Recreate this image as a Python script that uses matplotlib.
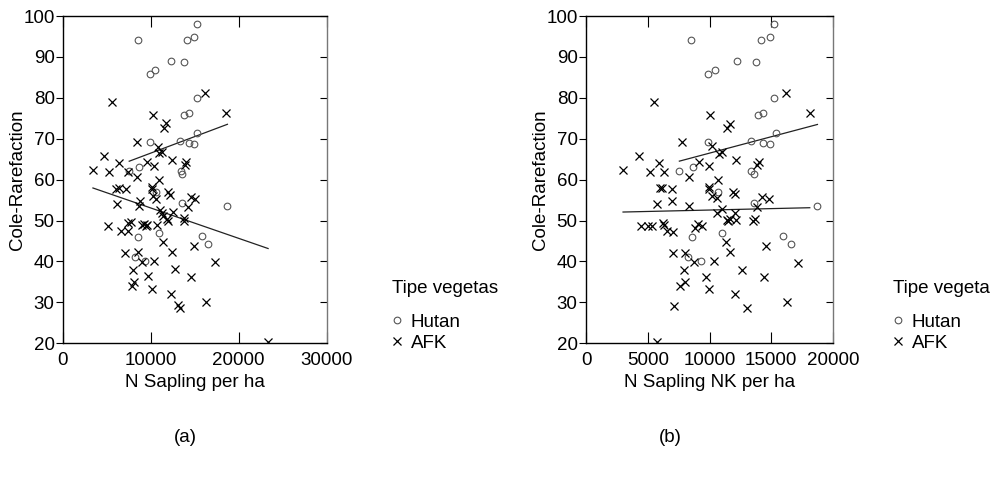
import matplotlib
matplotlib.use('Agg')

import numpy as np
import matplotlib.pyplot as plt
from matplotlib.lines import Line2D

plt.rcParams['font.family'] = ['Liberation Sans', 'DejaVu Sans']
plt.rcParams['font.size'] = 13.5

# Cole-Rarefaction for the Hutan plots (same plots in both panels)
hutan_y = [98.0, 94.1, 94.1, 94.9, 89.0, 88.8, 85.9, 86.7, 79.9, 75.9,
           76.2, 71.5, 69.1, 69.4, 69.0, 68.8, 62.0, 63.0, 62.0, 61.5,
           57.0, 54.4, 53.6, 45.9, 46.9, 46.3, 44.2, 41.1, 40.1]
hutan_sapling = [15200, 8490, 14140, 14860, 12240, 13720, 9890, 10500, 15200, 13830,
                 14290, 15310, 9890, 13300, 14290, 14900, 7540, 8640, 13380, 13600,
                 10540, 13600, 18720, 8530, 10950, 15880, 16560, 8220, 9320]
hutan_sapling_nk = [15260, 8500, 14150, 14900, 12260, 13740, 9910, 10480, 15230, 13900,
                    14340, 15360, 9910, 13340, 14360, 14930, 7560, 8670, 13390, 13640,
                    10670, 13640, 18740, 8560, 10990, 15930, 16580, 8240, 9290]

# AFK, panel (a): N Sapling per ha
afk_sapling = [5530, 16220, 18610, 10200, 11670, 11480, 8380, 10800, 10960, 11220,
               4620, 12360, 9510, 6330, 10350, 13990, 13900, 3410, 5190, 7400,
               8380, 10880, 6070, 6370, 7160, 10080, 10120, 11980, 12170, 8750,
               6180, 8680, 10270, 10540, 11100, 11220, 14550, 15010, 14210, 12470,
               11790, 11980, 13760, 13760, 11410, 5150, 6590, 7430, 7700, 7350,
               9020, 9210, 9400, 9590, 10650, 11410, 14970, 7050, 8490, 8940,
               17360, 10380, 12390, 7960, 12770, 9700, 14550, 8070, 7840, 10120,
               12240, 13110, 13300, 16330, 23350]
afk_y_a = [78.9, 81.1, 76.2, 75.8, 73.8, 72.7, 69.3, 68.1, 66.5, 66.8,
           65.9, 64.8, 64.4, 64.1, 63.3, 64.3, 63.5, 62.3, 61.8, 61.8,
           60.6, 59.8, 57.8, 57.9, 57.8, 58.2, 57.6, 57.1, 56.3, 54.9,
           54.1, 53.6, 55.9, 55.3, 52.5, 51.8, 55.7, 55.3, 53.3, 52.1,
           50.4, 50.0, 50.6, 50.0, 51.2, 48.6, 47.5, 49.3, 49.6, 47.5,
           48.8, 49.1, 48.6, 48.9, 48.8, 44.7, 43.9, 42.1, 42.2, 39.8,
           39.8, 40.2, 42.3, 38.0, 38.1, 36.5, 36.2, 35.1, 33.9, 33.3,
           32.0, 29.4, 28.7, 30.0, 20.2]

# AFK, panel (b): N Sapling NK per ha
afk_sapling_nk = [5510, 16200, 18120, 10070, 11660, 11420, 7750, 10180, 10800, 11040,
                  4320, 12120, 9150, 5910, 9990, 14010, 13820, 3000, 5180, 6290,
                  8340, 10670, 5990, 6130, 6990, 9960, 9960, 11910, 12100, 8370,
                  5780, 6940, 10180, 10580, 10610, 10990, 14230, 14850, 13880, 12070,
                  11400, 11530, 11660, 12120, 13550, 13690, 4460, 5050, 5320, 6260,
                  6350, 6590, 7070, 8830, 9070, 9420, 11310, 14550, 7020, 8020,
                  8780, 17150, 10340, 11690, 7910, 12660, 9690, 14450, 8020, 7610,
                  9960, 12040, 7130, 13070, 16250, 5750]
afk_y_b = [78.9, 81.1, 76.2, 75.8, 73.7, 72.6, 69.3, 68.3, 66.3, 66.7,
           65.9, 64.8, 64.3, 64.1, 63.4, 64.3, 63.5, 62.3, 61.8, 61.8,
           60.7, 59.8, 57.9, 57.9, 57.7, 58.3, 57.8, 57.1, 56.6, 53.6,
           54.1, 54.9, 55.9, 55.5, 51.8, 52.9, 55.7, 55.3, 53.3, 51.8,
           50.2, 50.0, 50.4, 50.2, 49.8, 50.4, 48.6, 48.6, 48.6, 49.4,
           49.0, 47.5, 47.3, 48.2, 49.1, 48.7, 44.7, 43.9, 42.1, 42.1,
           39.8, 39.7, 40.2, 42.2, 38.0, 38.0, 36.3, 36.2, 35.1, 33.9,
           33.3, 32.0, 29.1, 28.6, 30.0, 20.2]

fig = plt.figure(figsize=(10, 4.78), dpi=100)


def fit_line(ax, x, y):
    x = np.asarray(x, dtype=float)
    y = np.asarray(y, dtype=float)
    k, b = np.polyfit(x, y, 1)
    xs = np.array([x.min(), x.max()])
    ax.plot(xs, k * xs + b, color='#222222', lw=0.9, zorder=2)


def panel(rect, hx, hy, ax_, ay, xmax, xticks, xlabel, legend_title, tag, tag_x, leg_x):
    ax = fig.add_axes(rect)
    ax.plot(hx, hy, 'o', ms=4.8, mfc='none', mec='#555555', mew=0.8, zorder=3)
    ax.plot(ax_, ay, 'x', ms=5.8, color='black', mew=0.9, zorder=3)
    fit_line(ax, hx, hy)
    fit_line(ax, ax_, ay)

    ax.set_xlim(0, xmax)
    ax.set_ylim(20, 100)
    ax.set_xticks(xticks)
    ax.set_yticks(range(20, 101, 10))
    ax.tick_params(axis='y', direction='out', length=5, pad=1)
    ax.tick_params(axis='x', direction='in', length=8, top=True, pad=6)
    for s in ['left', 'bottom', 'top']:
        ax.spines[s].set_linewidth(1.0)
    ax.spines['right'].set_color('#777777')
    ax.spines['right'].set_linewidth(1.0)
    # inward ticks on the right side, no labels
    sec = ax.secondary_yaxis('right')
    sec.set_yticks(range(20, 101, 10))
    sec.tick_params(direction='in', length=5, labelright=False)
    sec.spines['right'].set_visible(False)

    ax.set_xlabel(xlabel, labelpad=4)
    ax.set_ylabel('Cole-Rarefaction', labelpad=-2)

    handles = [Line2D([], [], marker='o', ls='none', ms=4.8, mfc='none', mec='#555555', mew=0.8),
               Line2D([], [], marker='x', ls='none', ms=5.8, color='black', mew=0.9)]
    leg = fig.legend(handles, ['Hutan', 'AFK'], title=legend_title, frameon=False,
                     loc='upper left', bbox_to_anchor=(leg_x, 1 - 280 / 478), handlelength=0.5,
                     handletextpad=0.5, labelspacing=0.2, borderaxespad=0, borderpad=0,
                     alignment='left', title_fontsize=13.5)
    leg._legend_box.sep = 12

    fig.text(tag_x, 1 - 437 / 478, tag, ha='center', va='center', fontsize=13.5)
    return ax


panel([0.063, 0.2818, 0.2635, 0.6847], hutan_sapling, hutan_y, afk_sapling, afk_y_a,
      30000, [0, 10000, 20000, 30000], 'N Sapling per ha', 'Tipe vegetas', '(a)', 0.185, 0.392)
panel([0.586, 0.2818, 0.247, 0.6847], hutan_sapling_nk, hutan_y, afk_sapling_nk, afk_y_b,
      20000, [0, 5000, 10000, 15000, 20000], 'N Sapling NK per ha', 'Tipe vegeta', '(b)', 0.670, 0.893)

fig.savefig('out.png', dpi=100)
